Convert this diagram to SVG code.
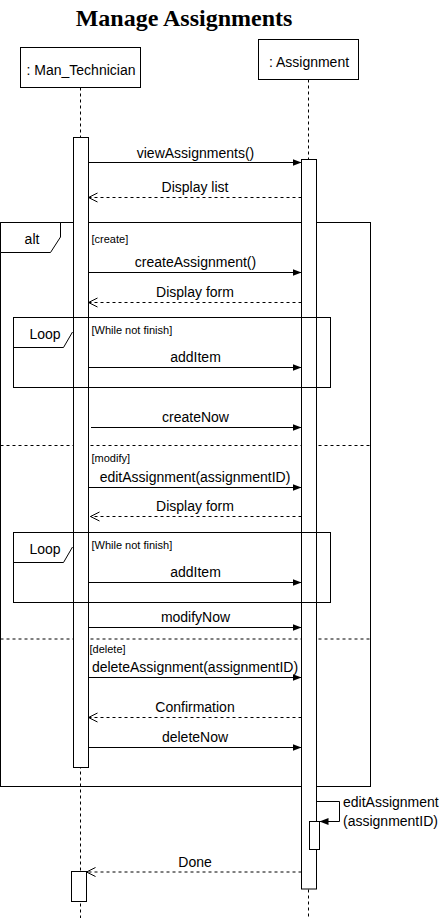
<svg xmlns="http://www.w3.org/2000/svg" width="440" height="918" viewBox="0 0 440 918">
<style>
.box{fill:#fff;stroke:#000;stroke-width:1}
.frame{fill:none;stroke:#000;stroke-width:1}
.life{stroke:#000;stroke-width:1;stroke-dasharray:3,3;fill:none}
.msg{stroke:#000;stroke-width:1;fill:none;marker-end:url(#fill)}
.ret{stroke:#000;stroke-width:1;fill:none;stroke-dasharray:3,3;marker-end:url(#open)}
.sep{stroke:#000;stroke-width:1;stroke-dasharray:3,3}
text{font-family:"Liberation Sans",Arial,sans-serif;fill:#000}
.t14{font-size:14px;text-anchor:middle;dominant-baseline:central}
.lbl{font-size:14px;text-anchor:middle;dominant-baseline:central}
.guard{font-size:11px;dominant-baseline:central}
.title{font-family:"Liberation Serif","Times New Roman",serif;font-weight:bold;font-size:24px;text-anchor:middle}
</style>
<defs>
<marker id="fill" markerWidth="10" markerHeight="8" refX="9" refY="4" orient="auto" markerUnits="userSpaceOnUse"><path d="M0,0.5 L9,4 L0,7.5 z" fill="#000"/></marker>
<marker id="open" markerWidth="11" markerHeight="11" refX="9.5" refY="5" orient="auto" markerUnits="userSpaceOnUse"><path d="M0.5,0.5 L9.5,5 L0.5,9.5" fill="none" stroke="#000" stroke-width="1"/></marker>
</defs>
<rect width="440" height="918" fill="#fff"/>
<text class="title" x="184" y="26">Manage Assignments</text>

<g id="lifelines">
<line class="life" x1="80.5" y1="87.5" x2="80.5" y2="918"/>
<line class="life" x1="308.5" y1="79.5" x2="308.5" y2="918"/>
</g>

<g id="alt-frame">
<rect class="frame" x="0.5" y="222.5" width="370" height="564"/>
<path class="box" d="M0.5,222.5 L60.5,222.5 L60.5,237 L50.5,252.5 L0.5,252.5 Z"/>
<text class="t14" x="32" y="239">alt</text>
<text class="guard" x="91.5" y="238.5">[create]</text>
<line class="sep" x1="0.5" y1="445.5" x2="370.5" y2="445.5"/>
<text class="guard" x="91.5" y="457.5">[modify]</text>
<line class="sep" x1="0.5" y1="639" x2="370.5" y2="639"/>
<text class="guard" x="89.5" y="648.5">[delete]</text>
</g>

<g id="node-man-technician">
<rect class="box" x="20.5" y="47.5" width="120" height="40"/>
<text class="t14" x="81" y="70">: Man_Technician</text>
</g>
<g id="node-assignment">
<rect class="box" x="258.5" y="39.5" width="100" height="40"/>
<text class="t14" x="309" y="61.5">: Assignment</text>
</g>

<g id="activations">
<rect class="box" x="73.5" y="137.5" width="15" height="630"/>
<rect class="box" x="301.5" y="159.5" width="15" height="729.5"/>
<rect class="box" x="309.5" y="821.5" width="10" height="28"/>
<rect class="box" x="71.5" y="871.5" width="15" height="30"/>
</g>

<g id="loop1">
<rect class="frame" x="13.5" y="317.5" width="317" height="70"/>
<path class="frame" d="M13.5,347.5 L63.5,347.5 L72.5,332"/>
<text class="t14" x="45" y="334">Loop</text>
<text class="guard" x="91.5" y="330">[While not finish]</text>
</g>
<g id="loop2">
<rect class="frame" x="13.5" y="532.5" width="317" height="70"/>
<path class="frame" d="M13.5,562.5 L63.5,562.5 L72.5,547"/>
<text class="t14" x="45" y="549">Loop</text>
<text class="guard" x="91.5" y="544.5">[While not finish]</text>
</g>

<g id="connectors">
<line class="msg" x1="88.5" y1="162.5" x2="301.5" y2="162.5"/>
<text class="lbl" x="195.5" y="152.5">viewAssignments()</text>
<line class="ret" x1="301.5" y1="197.5" x2="88.5" y2="197.5"/>
<text class="lbl" x="195" y="187">Display list</text>

<line class="msg" x1="88.5" y1="272.5" x2="301.5" y2="272.5"/>
<text class="lbl" x="195.5" y="262">createAssignment()</text>
<line class="ret" x1="301.5" y1="302.5" x2="88.5" y2="302.5"/>
<text class="lbl" x="195" y="292">Display form</text>

<line class="msg" x1="88.5" y1="367.5" x2="301.5" y2="367.5"/>
<text class="lbl" x="195.5" y="357">addItem</text>

<line class="msg" x1="91" y1="427.5" x2="301.5" y2="427.5"/>
<text class="lbl" x="195.5" y="416.5">createNow</text>

<line class="msg" x1="88.5" y1="487.5" x2="301.5" y2="487.5"/>
<text class="lbl" x="195" y="477">editAssignment(assignmentID)</text>
<line class="ret" x1="301.5" y1="516.5" x2="90.5" y2="516.5"/>
<text class="lbl" x="195" y="505.5">Display form</text>

<line class="msg" x1="88.5" y1="582.5" x2="301.5" y2="582.5"/>
<text class="lbl" x="195.5" y="572">addItem</text>

<line class="msg" x1="88.5" y1="627.5" x2="301.5" y2="627.5"/>
<text class="lbl" x="195.5" y="617">modifyNow</text>

<line class="msg" x1="88.5" y1="677.5" x2="301.5" y2="677.5"/>
<text class="lbl" x="195" y="667">deleteAssignment(assignmentID)</text>
<line class="ret" x1="301.5" y1="717.5" x2="88.5" y2="717.5"/>
<text class="lbl" x="195" y="707">Confirmation</text>

<line class="msg" x1="88.5" y1="747.5" x2="301.5" y2="747.5"/>
<text class="lbl" x="195" y="737">deleteNow</text>

<path class="msg" d="M316.5,801.5 L339.5,801.5 L339.5,821.5 L319.5,821.5"/>
<text style="font-size:14px;dominant-baseline:central" x="343" y="802">editAssignment</text>
<text style="font-size:14px;dominant-baseline:central" x="343" y="821">(assignmentID)</text>

<line class="ret" x1="301.5" y1="872" x2="86.5" y2="872"/>
<text class="lbl" x="195" y="862">Done</text>
</g>
</svg>
